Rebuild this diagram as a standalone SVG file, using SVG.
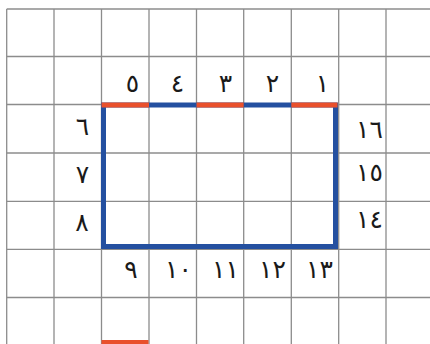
<svg xmlns="http://www.w3.org/2000/svg" width="430" height="344" viewBox="0 0 430 344">
<style>
.grid line{stroke:#8c8c8c;stroke-width:1.3}
.num{font-family:"DejaVu Sans",sans-serif;font-size:25px;fill:#1a1a1a;text-anchor:middle;letter-spacing:9px}
.blue{stroke:#2450a0;stroke-width:5;fill:none;stroke-linejoin:miter}
.orange{stroke:#e9502c;stroke-width:5;fill:none}
</style>
<rect width="430" height="344" fill="#ffffff"/>
<g class="grid" id="grid">
<line x1="6.7" y1="9" x2="430" y2="9"/>
<line x1="6.7" y1="56.5" x2="430" y2="56.5"/>
<line x1="6.7" y1="104.5" x2="430" y2="104.5"/>
<line x1="6.7" y1="153" x2="430" y2="153"/>
<line x1="6.7" y1="201.3" x2="430" y2="201.3"/>
<line x1="6.7" y1="249.3" x2="430" y2="249.3"/>
<line x1="6.7" y1="297.5" x2="430" y2="297.5"/>
<line x1="6.7" y1="9" x2="6.7" y2="344"/>
<line x1="54" y1="9" x2="54" y2="344"/>
<line x1="101.5" y1="9" x2="101.5" y2="344"/>
<line x1="149" y1="9" x2="149" y2="344"/>
<line x1="196.5" y1="9" x2="196.5" y2="344"/>
<line x1="243.7" y1="9" x2="243.7" y2="344"/>
<line x1="291.3" y1="9" x2="291.3" y2="344"/>
<line x1="338.7" y1="9" x2="338.7" y2="344"/>
<line x1="386" y1="9" x2="386" y2="344"/>
</g>
<g id="shape">
<path class="blue" d="M103.5 105H335.5V246.5H103.5Z"/>
<line class="orange" x1="101.5" y1="105" x2="149" y2="105"/>
<line class="orange" x1="196.5" y1="105" x2="243.7" y2="105"/>
<line class="orange" x1="291.3" y1="105" x2="337.5" y2="105"/>
<rect x="101.5" y="340" width="47" height="6" fill="#e9502c"/>
</g>
<g id="labels">
<text class="num" x="132.5" y="92">٥</text>
<text class="num" x="177.5" y="92">٤</text>
<text class="num" x="225.5" y="92">٣</text>
<text class="num" x="272.5" y="92">٢</text>
<text class="num" x="322.5" y="92">١</text>
<text class="num" x="82.5" y="135">٦</text>
<text class="num" x="82.5" y="183">٧</text>
<text class="num" x="82" y="231">٨</text>
<text class="num" x="369.5" y="138">١٦</text>
<text class="num" x="369.5" y="181">١٥</text>
<text class="num" x="369.5" y="228">١٤</text>
<text class="num" x="131" y="278">٩</text>
<text class="num" x="178.5" y="278">١٠</text>
<text class="num" x="225.5" y="278">١١</text>
<text class="num" x="272.5" y="278">١٢</text>
<text class="num" x="319.5" y="278">١٣</text>
</g>
</svg>
